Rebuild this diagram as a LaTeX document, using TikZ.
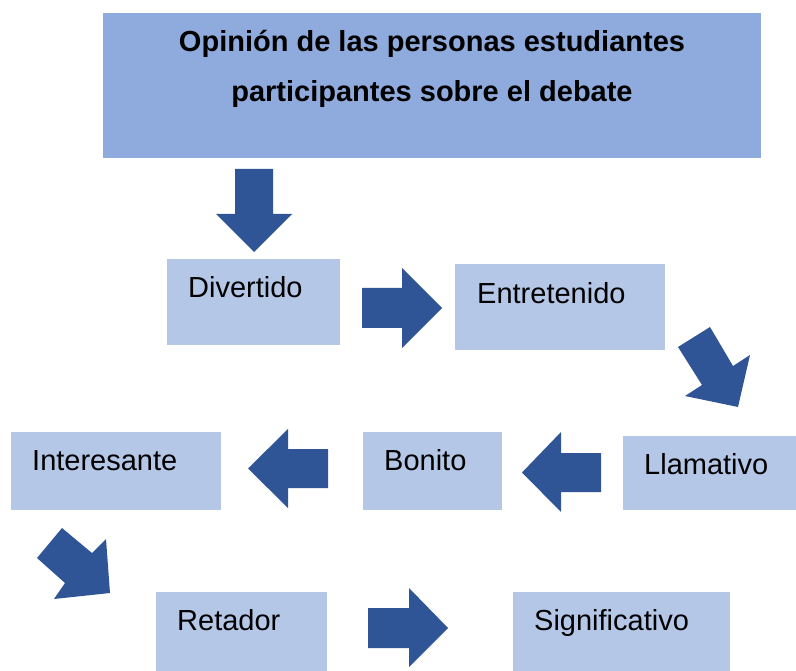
\documentclass[tikz,border=0pt]{standalone}
\usepackage{fontspec}
\setmainfont{Liberation Sans}
\definecolor{titlefill}{HTML}{8FAADC}
\definecolor{boxfill}{HTML}{B4C7E7}
\definecolor{arrowfill}{HTML}{2F5597}
\begin{document}
\begin{tikzpicture}[x=1pt,y=-1pt,
  box/.style={fill=boxfill, draw=none, inner sep=0pt, anchor=north west},
  titlebox/.style={fill=titlefill, draw=none, inner sep=0pt, anchor=north west},
  lbl/.style={anchor=base west, inner sep=0pt, font=\fontsize{29}{34}\selectfont},
  tlbl/.style={anchor=base, inner sep=0pt, font=\fontsize{29}{34}\selectfont\bfseries},
  blk/.style={fill=arrowfill, draw=none}]
\useasboundingbox (0,0) rectangle (796,671);
% title
\node[titlebox, minimum width=658pt, minimum height=145pt] (title) at (103,13) {};
\node[tlbl] (t1) at (432,52) {Opinión de las personas estudiantes};
\node[tlbl] (t2) at (432,102) {participantes sobre el debate};
% boxes
\node[box, minimum width=173pt, minimum height=86pt] (div) at (167,259) {};
\node[lbl] (divt) at (188,298) {Divertido};
\node[box, minimum width=210pt, minimum height=86pt] (ent) at (455,264) {};
\node[lbl] (entt) at (477,304) {Entretenido};
\node[box, minimum width=173pt, minimum height=74pt] (lla) at (623,436) {};
\node[lbl] (llat) at (644,474) {Llamativo};
\node[box, minimum width=139pt, minimum height=78pt] (bon) at (363,432) {};
\node[lbl] (bont) at (384,470) {Bonito};
\node[box, minimum width=210pt, minimum height=78pt] (int) at (11,432) {};
\node[lbl] (intt) at (32,470) {Interesante};
\node[box, minimum width=171pt, minimum height=80pt] (ret) at (156,592) {};
\node[lbl] (rett) at (177,630) {Retador};
\node[box, minimum width=217pt, minimum height=80pt] (sig) at (513,592) {};
\node[lbl] (sigt) at (534,630) {Significativo};
% block arrows
\fill[blk] (235,169) -- (273,169) -- (273,214) -- (292,214) -- (254,252) -- (216,214) -- (235,214) -- cycle;
\fill[blk] (362,288) -- (402,288) -- (402,268) -- (442,308) -- (402,348) -- (402,328) -- (362,328) -- cycle;
\fill[blk] (678,347) -- (710,327) -- (733,366) -- (750,355) -- (738,407) -- (685,396) -- (702,385) -- cycle;
\fill[blk] (601,453) -- (561,453) -- (561,432) -- (522,472.5) -- (561,512) -- (561,492) -- (601,492) -- cycle;
\fill[blk] (328,449) -- (288,449) -- (288,429) -- (248,468.5) -- (288,508) -- (288,488) -- (328,488) -- cycle;
\fill[blk] (37,558) -- (62,528) -- (92,553) -- (106,539) -- (110,593) -- (54,599) -- (65,583) -- cycle;
\fill[blk] (368,608) -- (409,608) -- (409,588) -- (448,628) -- (409,667) -- (409,648) -- (368,648) -- cycle;
\end{tikzpicture}
\end{document}
